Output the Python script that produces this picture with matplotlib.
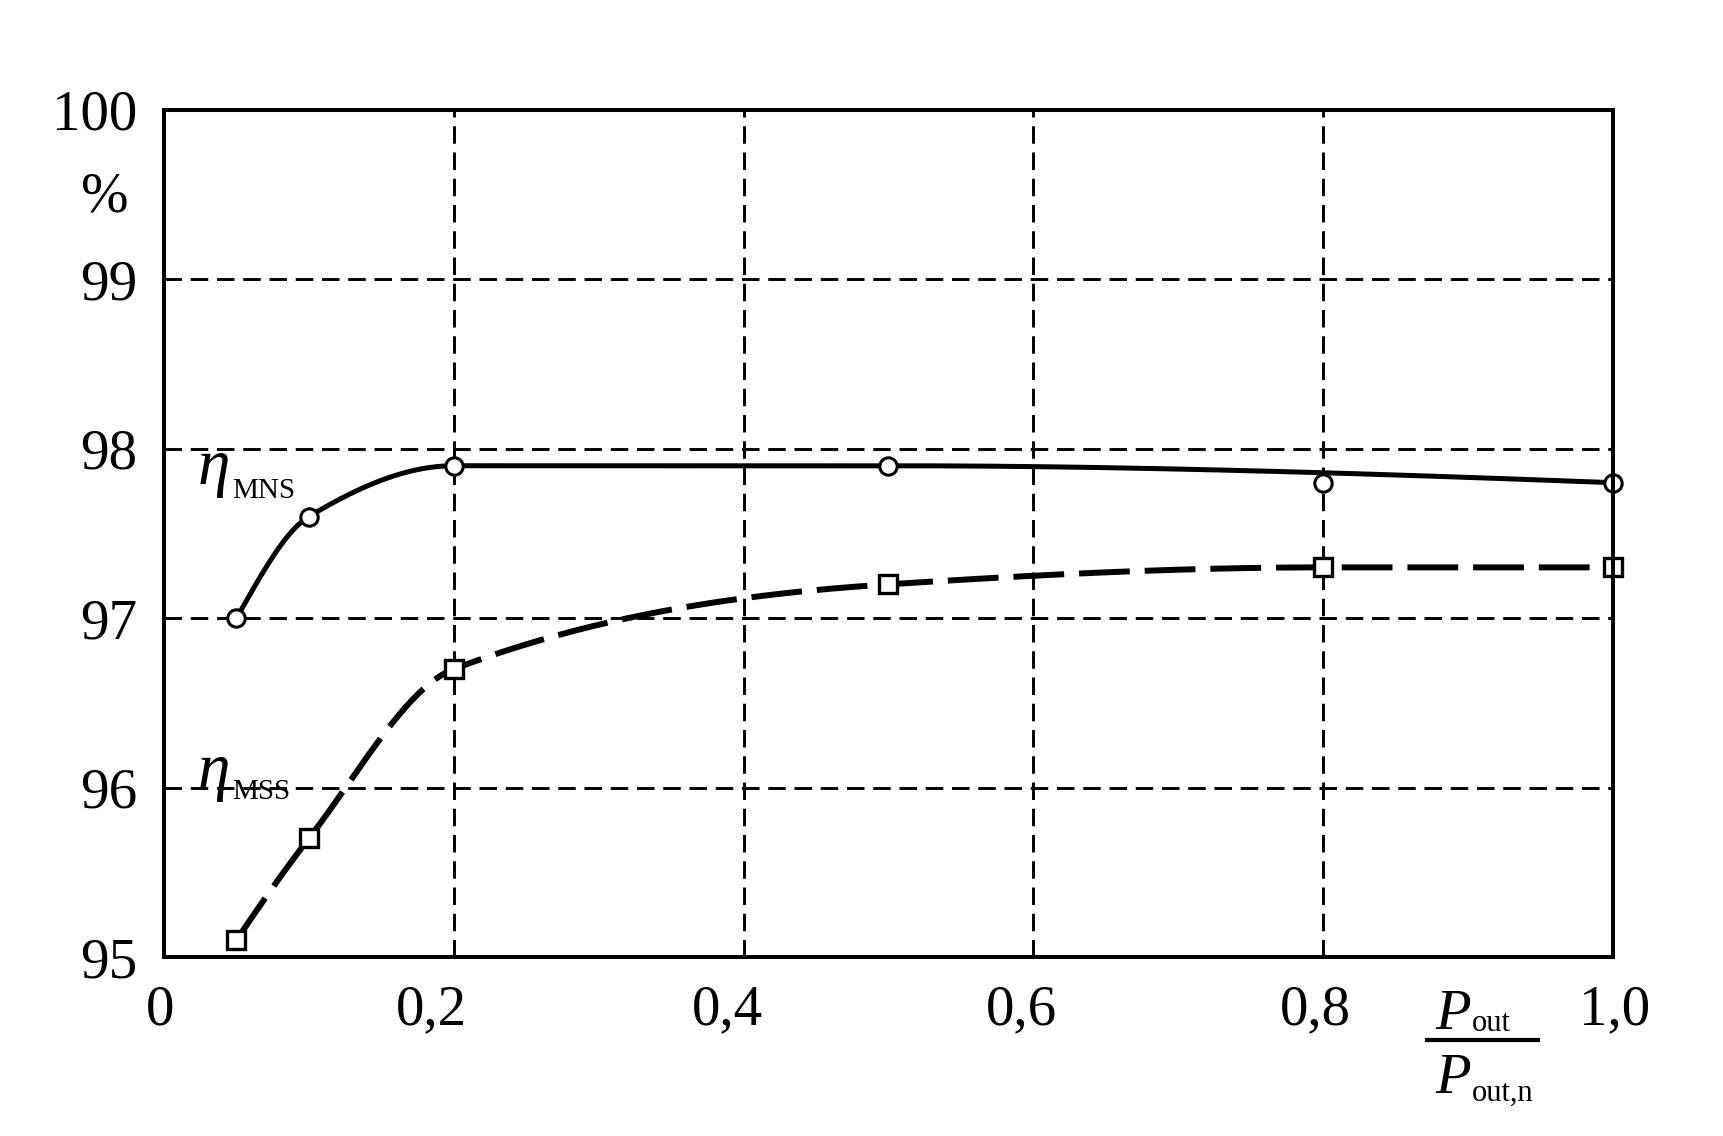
import numpy as np
import matplotlib
matplotlib.use("Agg")
import matplotlib.pyplot as plt
from matplotlib.transforms import ScaledTranslation
from matplotlib.lines import Line2D

# data
load = [0.05, 0.1, 0.2, 0.5, 0.8, 1.0]
eta_mns = [97.0, 97.6, 97.9, 97.9, 97.8, 97.8]
eta_mss = [95.1, 95.7, 96.7, 97.2, 97.3, 97.3]

# the hand-drawn MNS curve runs straight from 0.5 to 1.0, passing above the 0.8 point
mns_curve_points = [0, 1, 2, 3, 5]
mss_curve_points = [0, 1, 2, 3, 4, 5]

x_ticks = [0.0, 0.2, 0.4, 0.6, 0.8, 1.0]
x_tick_labels = ["0", "0,2", "0,4", "0,6", "0,8", "1,0"]
y_ticks = [95, 96, 97, 98, 99, 100]
y_tick_labels = ["95", "96", "97", "98", "99", "100"]

# small horizontal shifts (px) of the x tick labels, as in the scan
x_label_shift = [-4, -22, -16, -12, -8, 2]

W, H = 1724, 1136
SERIF = ["Liberation Serif", "DejaVu Serif"]
plt.rcParams["font.family"] = SERIF


def pchip(x, y, xs):
    # monotone cubic, only used to draw a smooth line through the points
    x = np.asarray(x, float)
    y = np.asarray(y, float)
    h = np.diff(x)
    d = np.diff(y) / h
    m = np.zeros_like(y)
    for k in range(1, len(x) - 1):
        if d[k - 1] * d[k] > 0:
            w1 = 2 * h[k] + h[k - 1]
            w2 = h[k] + 2 * h[k - 1]
            m[k] = (w1 + w2) / (w1 / d[k - 1] + w2 / d[k])

    def end(h0, h1, d0, d1):
        s = ((2 * h0 + h1) * d0 - h0 * d1) / (h0 + h1)
        if np.sign(s) != np.sign(d0):
            return 0.0
        if np.sign(d0) != np.sign(d1) and abs(s) > abs(3 * d0):
            return 3 * d0
        return s

    m[0] = end(h[0], h[1], d[0], d[1])
    m[-1] = end(h[-1], h[-2], d[-1], d[-2])

    idx = np.clip(np.searchsorted(x, xs) - 1, 0, len(x) - 2)
    t = (xs - x[idx]) / h[idx]
    h00 = 2 * t**3 - 3 * t**2 + 1
    h10 = t**3 - 2 * t**2 + t
    h01 = -2 * t**3 + 3 * t**2
    h11 = t**3 - t**2
    return h00 * y[idx] + h10 * h[idx] * m[idx] + h01 * y[idx + 1] + h11 * h[idx] * m[idx + 1]


def smooth(values, keep, xs):
    kx = [load[i] for i in keep]
    ky = [values[i] for i in keep]
    return pchip(kx, ky, xs)


fig = plt.figure(figsize=(W / 100, H / 100), dpi=100)
fig.patch.set_facecolor("white")
left, right, top, bottom = 164, 1613, 110, 957
ax = fig.add_axes([left / W, 1 - bottom / H, (right - left) / W, (bottom - top) / H])

ax.set_xlim(0, 1.0)
ax.set_ylim(95, 100)

grid_style = dict(color="black", linewidth=2.1, linestyle=(0, (6, 3)), zorder=1)
for xv in x_ticks[1:-1]:
    ax.axvline(xv, **grid_style)
for yv in y_ticks[1:-1]:
    ax.axhline(yv, **grid_style)

xs = np.linspace(load[0], load[-1], 400)
ax.plot(xs, smooth(eta_mns, mns_curve_points, xs), color="black", linewidth=3.6,
        solid_capstyle="butt", zorder=3)
ax.plot(xs, smooth(eta_mss, mss_curve_points, xs), color="black", linewidth=4.3,
        linestyle=(0, (8.5, 2.5)), dash_capstyle="butt", zorder=3)

ax.plot(load, eta_mns, linestyle="none", marker="o", markersize=12.5,
        markerfacecolor="white", markeredgecolor="black", markeredgewidth=2.2,
        clip_on=False, zorder=4)
ax.plot(load, eta_mss, linestyle="none", marker="s", markersize=12.5,
        markerfacecolor="white", markeredgecolor="black", markeredgewidth=2.4,
        clip_on=False, zorder=4)

for sp in ax.spines.values():
    sp.set_linewidth(2.9)
    sp.set_zorder(5)

ax.set_xticks(x_ticks)
ax.set_xticklabels(x_tick_labels)
ax.set_yticks(y_ticks)
ax.set_yticklabels(y_tick_labels)
ax.tick_params(axis="both", length=0, labelsize=41)
ax.tick_params(axis="x", pad=20)
ax.tick_params(axis="y", pad=19)
for lab, dx in zip(ax.get_xticklabels(), x_label_shift):
    lab.set_transform(lab.get_transform() + ScaledTranslation(dx / 100, 0, fig.dpi_scale_trans))

# "%" under 100
ax.text(-0.0407, 99.485, "%", fontsize=41, ha="center", va="center", clip_on=False)

# curve labels
ax.text(0.0235, 97.79, "η", fontsize=47, fontstyle="italic", ha="left", va="baseline")
ax.text(0.047, 97.71, "MNS", fontsize=21, ha="left", va="baseline")
ax.text(0.0235, 96.0, "η", fontsize=47, fontstyle="italic", ha="left", va="baseline")
ax.text(0.047, 95.93, "MSS", fontsize=21, ha="left", va="baseline")


def fx(px):
    return px / W


def fy(py):
    return 1 - py / H


# x axis label as a fraction P_out / P_out,n
fig.text(fx(1435), fy(1029), "P", fontsize=42, fontstyle="italic", ha="left", va="baseline")
fig.text(fx(1472), fy(1031), "out", fontsize=22, ha="left", va="baseline")
fig.add_artist(Line2D([fx(1427), fx(1538)], [fy(1040), fy(1040)], color="black", linewidth=3))
fig.text(fx(1435), fy(1093), "P", fontsize=42, fontstyle="italic", ha="left", va="baseline")
fig.text(fx(1472), fy(1101), "out,n", fontsize=22, ha="left", va="baseline")

fig.savefig("out.png", dpi=100, facecolor="white")
